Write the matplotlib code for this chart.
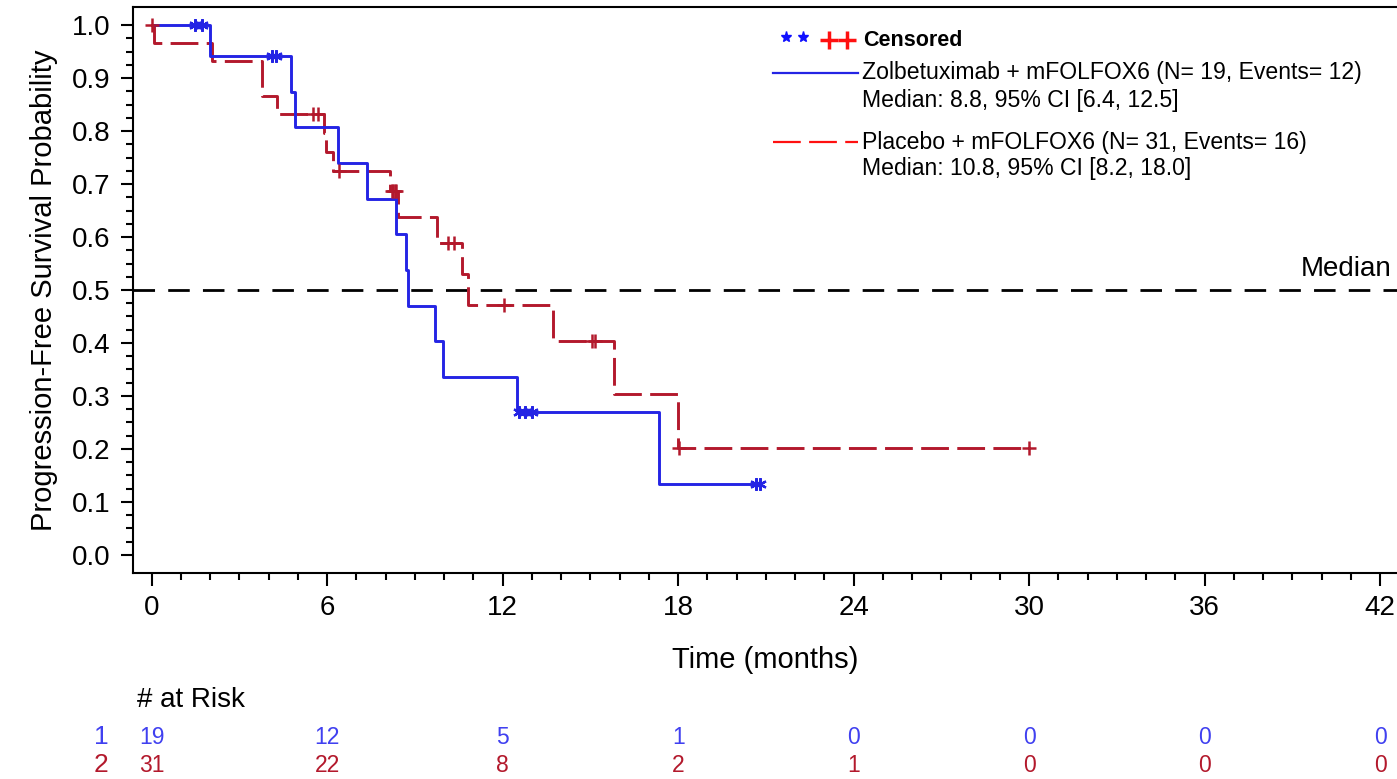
import numpy as np
import matplotlib
matplotlib.use("Agg")
import matplotlib.pyplot as plt
from matplotlib.lines import Line2D

plt.rcParams['font.family'] = ['Liberation Sans', 'DejaVu Sans']
plt.rcParams['lines.scale_dashes'] = False

# --- data ---
# Zolbetuximab + mFOLFOX6 (step times / survival after each step)
zol_t = [0.0, 2.0, 4.76, 4.9, 6.37, 7.36, 8.36, 8.7, 8.77, 9.69, 9.96, 12.5, 17.36]
zol_s = [1.0, 0.941, 0.874, 0.807, 0.739, 0.672, 0.605, 0.538, 0.470, 0.403, 0.336, 0.269, 0.134]
zol_end = 20.75
zol_cens = [1.48, 1.72, 4.11, 4.25, 12.55, 12.75, 13.0, 20.65, 20.8]

# Placebo + mFOLFOX6
pla_t = [0.0, 0.07, 2.05, 3.77, 4.28, 5.89, 5.96, 6.2, 8.15, 8.41, 9.76, 10.61, 10.82, 13.72, 15.8, 17.99]
pla_s = [1.0, 0.967, 0.933, 0.867, 0.833, 0.797, 0.761, 0.725, 0.687, 0.637, 0.588, 0.530, 0.471,
         0.404, 0.303, 0.202]
pla_end = 30.0
pla_cens = [0.02, 5.52, 5.69, 6.4, 8.2, 8.26, 8.31, 8.36, 10.13, 10.34, 12.05, 15.06, 15.16, 18.04, 30.0]

risk_times = [0, 6, 12, 18, 24, 30, 36, 42]
risk_zol = [19, 12, 5, 1, 0, 0, 0, 0]
risk_pla = [31, 22, 8, 2, 1, 0, 0, 0]

BLUE = '#2424e4'
RED = '#b3192c'
BLUE_TXT = '#4040f0'
RED_TXT = '#b3192c'

W, H = 1397, 779
fig = plt.figure(figsize=(W / 100, H / 100), dpi=100)
ax = fig.add_axes([133 / W, 1 - 573 / H, 1 - 133 / W, (573 - 7) / H])


def step_val(ts, ss, c):
    i = np.searchsorted(ts, c, side='right') - 1
    return np.array(ss)[i]


# median reference line
ax.axhline(0.5, color='black', lw=2.0, dashes=(15.5, 9.5), zorder=1)
ax.text(42.4, 0.515, 'Median', ha='right', va='bottom', fontsize=20)

# curves
ax.step(zol_t + [zol_end], zol_s + [zol_s[-1]], where='post', color=BLUE, lw=2.1, zorder=3)
ax.step(pla_t + [pla_end], pla_s + [pla_s[-1]], where='post', color=RED, lw=2.1,
        dashes=(20, 6), zorder=2)

# censor marks
ax.plot(zol_cens, step_val(zol_t, zol_s, zol_cens), ls='none', marker=(6, 2, 0),
        ms=9, mew=1.6, color=BLUE, zorder=4)
ax.plot(pla_cens, step_val(pla_t, pla_s, pla_cens), ls='none', marker='+',
        ms=10, mew=1.8, color=RED, zorder=4)

# axes
ax.set_xlim(-0.64, 42.58)
ax.set_ylim(-0.034, 1.034)
ax.set_xticks(risk_times)
ax.set_xticks(np.arange(0, 43, 1), minor=True)
ax.set_yticks(np.arange(0, 1.01, 0.1))
ax.set_yticks(np.arange(0, 1.001, 0.025), minor=True)
ax.set_yticklabels([f'{v:.1f}' for v in np.arange(0, 1.01, 0.1)])
ax.tick_params(which='major', length=9, width=1.5, labelsize=20, pad=7)
ax.tick_params(which='minor', length=5, width=1.5)
ax.spines['right'].set_visible(False)
for s in ['left', 'bottom', 'top']:
    ax.spines[s].set_linewidth(1.5)
ax.set_xlabel('Time (months)', fontsize=21, labelpad=18)
ax.set_ylabel('Progression-Free Survival Probability', fontsize=21, labelpad=10)


# legend (figure pixel coordinates)
def fx(x):
    return x / W


def fy(y):
    return 1 - y / H


fig.add_artist(Line2D([fx(786), fx(803)], [fy(37), fy(37)], ls='none', marker='*',
                      ms=8, color='#1010ff', transform=fig.transFigure))
fig.add_artist(Line2D([fx(829), fx(847)], [fy(40), fy(40)], ls='none', marker='+',
                      ms=13, mew=2.5, color='#ff1010', transform=fig.transFigure))
fig.text(fx(863), fy(40), 'Censored', fontsize=15.5, fontweight='bold', va='center')
fig.add_artist(Line2D([fx(773), fx(858)], [fy(73), fy(73)], color=BLUE, lw=1.6,
                      transform=fig.transFigure))
fig.text(fx(862), fy(73), 'Zolbetuximab + mFOLFOX6 (N= 19, Events= 12)', fontsize=16.6, va='center')
fig.text(fx(862), fy(100), 'Median: 8.8, 95% CI [6.4, 12.5]', fontsize=16.6, va='center')
fig.add_artist(Line2D([fx(773), fx(858)], [fy(142), fy(142)], color='#ff1010', lw=1.6,
                      dashes=(20, 6), transform=fig.transFigure))
fig.text(fx(862), fy(142), 'Placebo + mFOLFOX6 (N= 31, Events= 16)', fontsize=16.6, va='center')
fig.text(fx(862), fy(169), 'Median: 10.8, 95% CI [8.2, 18.0]', fontsize=16.6, va='center')

# number at risk table
trans = matplotlib.transforms.blended_transform_factory(ax.transData, fig.transFigure)
fig.text(fx(137), fy(700), '# at Risk', fontsize=20, va='center')
fig.text(fx(101), fy(737), '1', fontsize=19, va='center', ha='center', color=BLUE_TXT)
fig.text(fx(101), fy(765), '2', fontsize=19, va='center', ha='center', color=RED_TXT)
for t, a, b in zip(risk_times, risk_zol, risk_pla):
    ax.text(t, fy(737), str(a), transform=trans, fontsize=16.5, ha='center', va='center',
            color=BLUE_TXT, clip_on=False)
    ax.text(t, fy(765), str(b), transform=trans, fontsize=16.5, ha='center', va='center',
            color=RED_TXT, clip_on=False)

fig.savefig('out.png', dpi=100)
